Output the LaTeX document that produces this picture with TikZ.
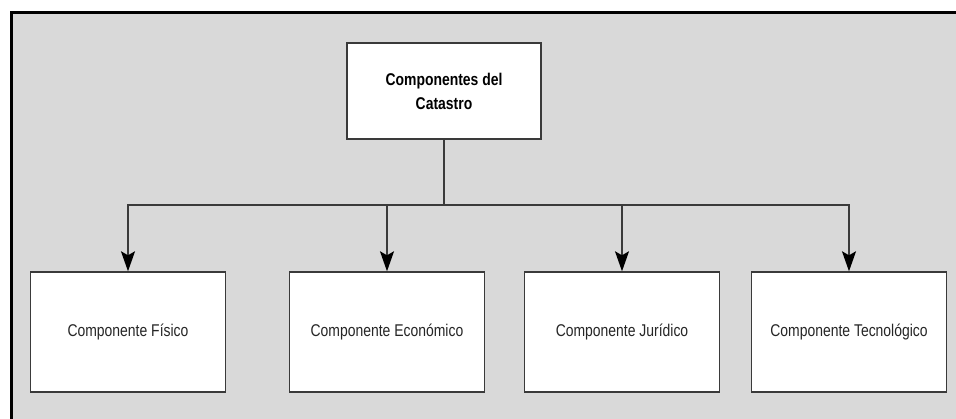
\documentclass[tikz,border=0pt]{standalone}
\usepackage{fontspec}
\setmainfont{Liberation Sans}[FakeStretch=0.82]
\usetikzlibrary{arrows.meta}
\definecolor{bggray}{HTML}{D9D9D9}
\definecolor{linegray}{HTML}{3A3A3A}
\tikzset{
  box/.style={draw=linegray, line width=1.4pt, fill=white, minimum height=120pt, minimum width=195pt, inner sep=0pt, font=\fontsize{17}{19}\selectfont, text=black!85},
  topbox/.style={draw=linegray, line width=1.4pt, fill=white, minimum height=96pt, minimum width=194pt, inner sep=0pt, align=center, font=\fontsize{17}{24}\selectfont\bfseries},
  conn/.style={draw=linegray, line width=1.6pt},
  arr/.style={conn, -{Stealth[length=20pt,width=14pt,inset=4pt,fill=black,color=black]}}
}
\begin{document}
\begin{tikzpicture}[x=1pt,y=-1pt]
\useasboundingbox (0,0) rectangle (956,419);
\fill[bggray] (11,13) rectangle (956,419);
\draw[black, line width=3pt] (11,419) -- (11,13) -- (956,13);
\node[topbox] (top) at (444,91) {Componentes del\\Catastro};
\node[box] (b1) at (128,332) {Componente Físico};
\node[box] (b2) at (387,332) {Componente Económico};
\node[box] (b3) at (622,332) {Componente Jurídico};
\node[box] (b4) at (849,332) {Componente Tecnológico};
\coordinate (bus) at (444,205);
\draw[conn] (top.south) -- (bus);
\draw[arr] (bus) -| (b1.north);
\draw[arr] (bus) -| (b2.north);
\draw[arr] (bus) -| (b3.north);
\draw[arr] (bus) -| (b4.north);
\end{tikzpicture}
\end{document}
